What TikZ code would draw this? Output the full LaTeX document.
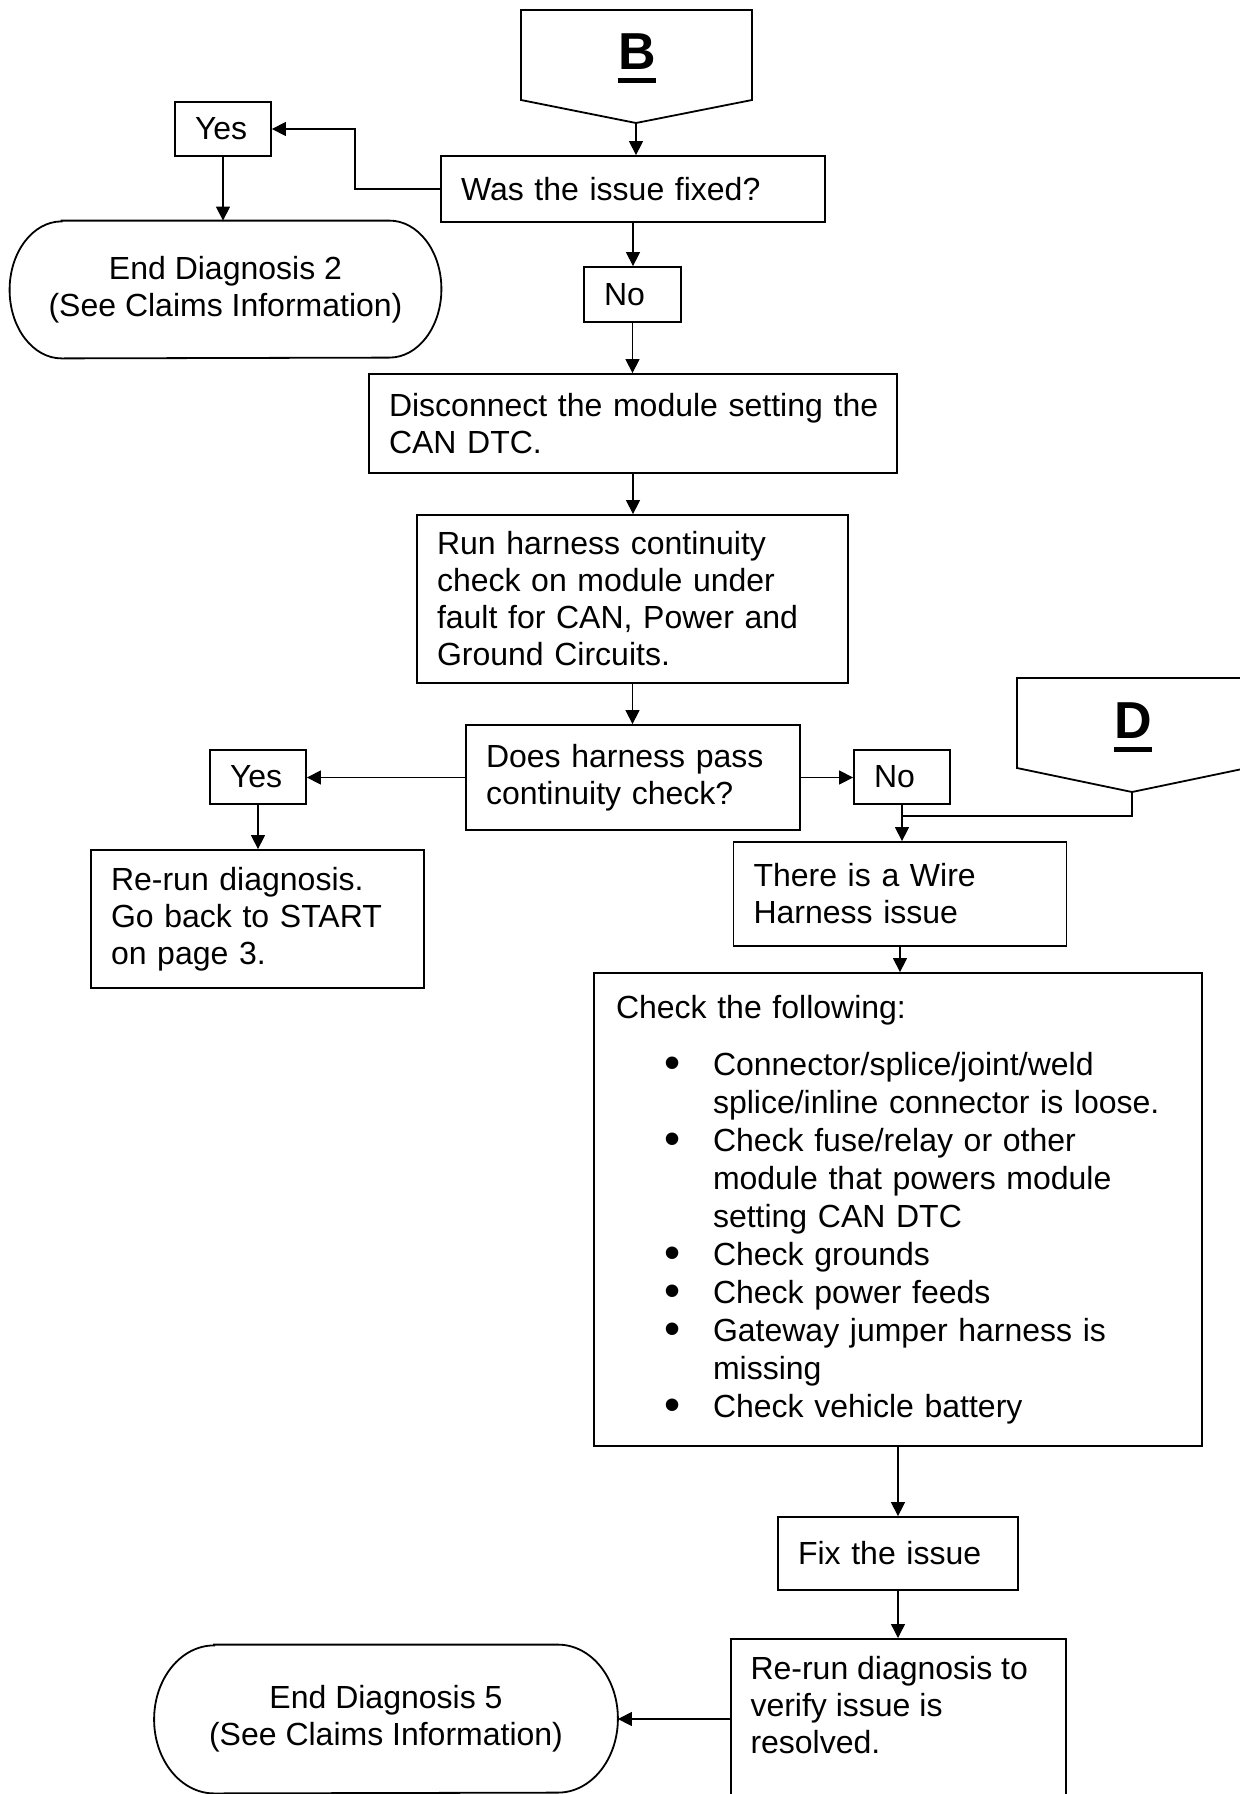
\documentclass[tikz,border=0pt]{standalone}
\usepackage{fontspec}
\setmainfont{Liberation Sans}
\usetikzlibrary{arrows.meta}
\newcommand{\boxfont}{\fontsize{16}{18.5}\selectfont}
\newcommand{\connul}[1]{\setbox0\hbox{#1}\rlap{\copy0}\rule[-7pt]{\wd0}{2.5pt}}
\newcommand{\bul}{\hspace*{24.4pt}\makebox[24.1pt][l]{\smash{\raisebox{-1.6pt}{\fontsize{23}{19}\selectfont\textbullet}}}}
\newcommand{\cont}{\hspace*{48.5pt}}

\begin{document}
\begin{tikzpicture}[x=0.5pt, y=0.5pt,
  box/.style={draw, line width=.9pt, inner xsep=10pt, inner ysep=0pt, align=left, font=\boxfont},
  term/.style={inner sep=0pt, align=center, font=\boxfont},
  conn/.style={font=\fontsize{26}{30}\selectfont\bfseries, inner sep=0pt},
  arr/.style={line width=.65pt, -{Triangle[length=7pt,width=7pt]}},
  link/.style={line width=.65pt}]
\useasboundingbox (0,0) rectangle (1240,-1794);
\clip (0,0) rectangle (1240,-1794);

% off-page connectors
\draw[line width=.9pt] (521,-10) -- (752,-10) -- (752,-100) -- (636,-123) -- (521,-100) -- cycle;
\coordinate (Btip) at (636,-123);
\node[conn, anchor=base] (B) at (637,-69) {\connul{B}};
\draw[line width=.9pt] (1017,-678) -- (1247,-678) -- (1247,-768) -- (1132,-792) -- (1017,-768) -- cycle;
\coordinate (Dtip) at (1132,-792);
\node[conn, anchor=base] (D) at (1133,-738) {\connul{D}};

% boxes
\node[box, text width=172pt, minimum height=33pt] (issue) at (633,-189) {Was the issue fixed?};
\node[box, text width=28pt, minimum height=27pt] (yesA) at (223,-129) {Yes};
\node[term, minimum width=215.5pt, minimum height=68.5pt] (endA) at (225.5,-289.5) {End Diagnosis 2\\(See Claims Information)};
\draw[line width=.9pt] ([xshift=26pt]endA.north west) -- ([xshift=-26pt]endA.north east)
  arc[start angle=90, end angle=-90, x radius=26pt, y radius=34.25pt]
  -- ([xshift=26pt]endA.south west)
  arc[start angle=270, end angle=90, x radius=26pt, y radius=34.25pt] -- cycle;
\node[box, text width=28.5pt, minimum height=27.5pt] (noA) at (632.5,-294.5) {No};
\node[box, text width=244pt, minimum height=49.5pt] (disc) at (633,-423.5) {\mbox{Disconnect the module setting the}\\CAN DTC.};
\node[box, text width=195.5pt, minimum height=84pt] (run) at (632.5,-599) {Run harness continuity\\check on module under\\fault for CAN, Power and\\Ground Circuits.};
\node[box, text width=147pt, minimum height=52.5pt] (does) at (633,-777.5) {Does harness pass\\continuity check?};
\node[box, text width=28pt, minimum height=27pt] (yesB) at (258,-777) {Yes};
\node[box, text width=28pt, minimum height=27pt] (noB) at (902,-777) {No};
\node[box, text width=146.5pt, minimum height=69pt] (rerunA) at (257.5,-919) {Re-run diagnosis.\\Go back to START\\on page 3.};
\node[box, text width=146.5pt, minimum height=52pt] (wire) at (900,-894) {There is a Wire\\Harness issue};
\node[box, text width=282pt, inner xsep=11pt, minimum height=236.5pt, font=\fontsize{16}{19}\selectfont] (check) at (898,-1209.5) {Check the following:\\[9.5pt]
  \bul Connector/splice/joint/weld\\
  \cont splice/inline connector is loose.\\
  \bul Check fuse/relay or other\\
  \cont module that powers module\\
  \cont setting CAN DTC\\
  \bul Check grounds\\
  \bul Check power feeds\\
  \bul Gateway jumper harness is\\
  \cont missing\\
  \bul Check vehicle battery};
\node[box, text width=100pt, minimum height=36.5pt] (fix) at (898,-1553.5) {Fix the issue};
\node[box, minimum width=167.5pt, minimum height=101pt, anchor=north] (verify) at (898.5,-1638) {};
\node[font=\boxfont, align=left, anchor=north west, inner sep=0pt] (verifytext) at ([xshift=10pt,yshift=-9pt]verify.north west) {Re-run diagnosis to\\verify issue is\\resolved.};
\node[term, minimum width=231.5pt, minimum height=74pt] (endB) at (386,-1719) {End Diagnosis 5\\(See Claims Information)};
\draw[line width=.9pt] ([xshift=30pt]endB.north west) -- ([xshift=-30pt]endB.north east)
  arc[start angle=90, end angle=-90, x radius=30pt, y radius=37pt]
  -- ([xshift=30pt]endB.south west)
  arc[start angle=270, end angle=90, x radius=30pt, y radius=37pt] -- cycle;

% connectors
\draw[arr] (Btip) -- (Btip |- issue.north);
\draw[arr] (issue.west) -- ++(-85,0) |- (yesA.east);
\draw[arr] (yesA.south) -- (yesA.south |- endA.north);
\draw[arr] (issue.south) -- (issue.south |- noA.north);
\draw[arr] (noA.south) -- (noA.south |- disc.north);
\draw[arr] (disc.south) -- (disc.south |- run.north);
\draw[arr] (run.south) -- (run.south |- does.north);
\draw[arr] (does.west) -- (does.west -| yesB.east);
\draw[arr] (yesB.south) -- (yesB.south |- rerunA.north);
\draw[arr] (does.east) -- (does.east -| noB.west);
\coordinate (join) at (noB.south |- 0,-816);
\draw[link] (noB.south) -- (join);
\draw[link] (Dtip) |- (join);
\draw[arr] (join) -- (join |- wire.north);
\draw[arr] (wire.south) -- (wire.south |- check.north);
\draw[arr] (check.south) -- (check.south |- fix.north);
\draw[arr] (fix.south) -- (fix.south |- verify.north);
\draw[arr] (verify.west |- endB.east) -- (endB.east);
\end{tikzpicture}
\end{document}
